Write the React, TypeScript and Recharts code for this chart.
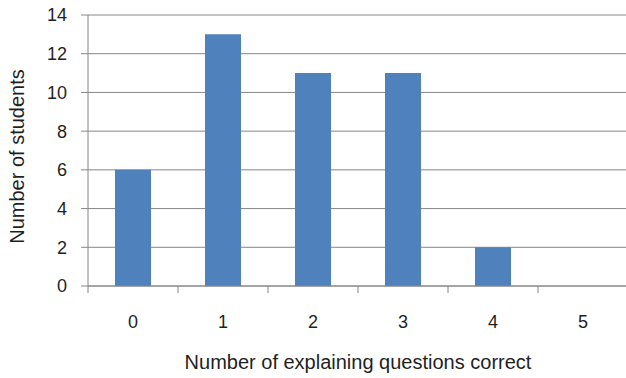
import React from 'react';
import { BarChart, Bar, XAxis, YAxis, CartesianGrid, Label } from 'recharts';

const scores = ['0', '1', '2', '3', '4', '5'];
const studentCounts = [6, 13, 11, 11, 2, 0];
const yTicks = [0, 2, 4, 6, 8, 10, 12, 14];

const data = scores.map((score, i) => ({ score, students: studentCounts[i] }));

const FONT = '"Liberation Sans", Arial, sans-serif';
const TEXT = '#1f1f1f';
const AXIS = '#868686';
const X_TICK_SIZE = 6;
const X_TICK_MARGIN = 23;

// category label plus small marks on the band edges (Excel style)
const CategoryTick = (props: any) => {
  const { x, y, payload, width, visibleTicksCount, index } = props;
  const band = width / visibleTicksCount;
  const axisY = y - X_TICK_SIZE - X_TICK_MARGIN;
  const left = x - band / 2;
  return (
    <g>
      <line x1={left} x2={left} y1={axisY} y2={axisY + 7} stroke={AXIS} />
      {index === visibleTicksCount - 1 && (
        <line x1={left + band} x2={left + band} y1={axisY} y2={axisY + 7} stroke={AXIS} />
      )}
      <text x={x} y={y} dy="0.71em" textAnchor="middle" fill={TEXT} fontSize={18} fontFamily={FONT}>
        {payload.value}
      </text>
    </g>
  );
};

export default function App() {
  return (
    <div style={{ position: 'absolute', left: 0, top: 0, width: 626, height: 378, background: '#fff' }}>
      <BarChart
        width={628}
        height={378}
        data={data}
        barCategoryGap="30%"
        margin={{ top: 15, right: 0, bottom: 0, left: 0 }}
        style={{ fontFamily: FONT }}
      >
        <CartesianGrid vertical={false} stroke={AXIS} strokeWidth={1} />
        <XAxis
          dataKey="score"
          height={92}
          axisLine={{ stroke: AXIS }}
          tickLine={false}
          tickSize={X_TICK_SIZE}
          tickMargin={X_TICK_MARGIN}
          interval={0}
          tick={<CategoryTick />}
        >
          <Label
            value="Number of explaining questions correct"
            position="insideBottom"
            offset={9}
            style={{ fill: TEXT, fontSize: 20, fontFamily: FONT }}
          />
        </XAxis>
        <YAxis
          domain={[0, 14]}
          ticks={yTicks}
          width={88}
          axisLine={{ stroke: AXIS }}
          tickSize={7}
          tickLine={{ stroke: AXIS }}
          tickMargin={14}
          tick={{ fill: TEXT, fontSize: 18 }}
        >
          <Label
            value="Number of students"
            angle={-90}
            position="insideLeft"
            offset={17}
            dy={6}
            style={{ fill: TEXT, fontSize: 20, fontFamily: FONT, textAnchor: 'middle' }}
          />
        </YAxis>
        <Bar dataKey="students" fill="#4F81BD" isAnimationActive={false} />
      </BarChart>
    </div>
  );
}
